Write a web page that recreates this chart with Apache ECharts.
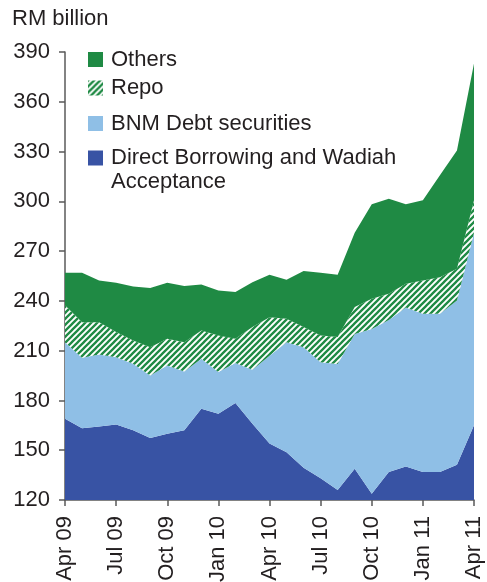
<!DOCTYPE html>
<html>
<head>
<meta charset="utf-8">
<script src="https://cdn.jsdelivr.net/npm/echarts@6/dist/echarts.min.js"></script>
<style>
  html, body { margin: 0; padding: 0; background: #fff; }
  #chart { width: 487px; height: 582px; }
</style>
</head>
<body>
<div id="chart"></div>
<script>
// months, Apr 09 .. Apr 11
var months = ['Apr 09', 'May 09', 'Jun 09', 'Jul 09', 'Aug 09', 'Sep 09', 'Oct 09', 'Nov 09', 'Dec 09',
  'Jan 10', 'Feb 10', 'Mar 10', 'Apr 10', 'May 10', 'Jun 10', 'Jul 10', 'Aug 10', 'Sep 10', 'Oct 10',
  'Nov 10', 'Dec 10', 'Jan 11', 'Feb 11', 'Mar 11', 'Apr 11'];

// RM billion, stacked bottom -> top
var directBorrowing = [169, 163.3, 164.3, 165.5, 162, 157.3, 160, 162, 175, 172, 178.4, 166, 154,
  148.8, 139.4, 133.1, 126.1, 138.8, 123.7, 136.8, 140.2, 136.8, 136.8, 141.2, 165];
var bnmDebt = [46, 42.4, 43.4, 40.6, 40.1, 37.8, 41.1, 35.5, 30.1, 25.1, 24.1, 32.5, 53,
  66.2, 72.6, 69.9, 75.9, 81.2, 99.3, 91.7, 95.8, 95.5, 95.5, 99.1, 116];
var repo = [22.3, 21.5, 19.5, 15.1, 14.1, 17, 16.1, 17.6, 17.1, 22.1, 14.7, 25.7, 23.2,
  14.2, 12.2, 16.2, 16.2, 16.3, 18.3, 15.8, 14.4, 20, 22, 19.1, 19.6];
var others = [19.7, 29.8, 25.1, 29.8, 32.5, 35.6, 33.8, 33.8, 27.7, 27.1, 28.1, 27.1, 25.6,
  23.6, 33.8, 37.8, 37.6, 44.7, 56.9, 57.3, 47.8, 48.3, 61.4, 71.3, 82.4];

var darkBlue = '#3853a4';
var lightBlue = '#8fbfe6';
var green = '#1f8a44';
var textColor = '#231f20';
var axisColor = '#5a5a5a';

// hatch for repo
var tile = document.createElement('canvas');
tile.width = 6;
tile.height = 6;
var ctx = tile.getContext('2d');
ctx.fillStyle = '#fff';
ctx.fillRect(0, 0, 6, 6);
ctx.strokeStyle = green;
ctx.lineWidth = 2.3;
ctx.beginPath();
ctx.moveTo(-1, 7); ctx.lineTo(7, -1);
ctx.moveTo(-1, 1); ctx.lineTo(1, -1);
ctx.moveTo(5, 7); ctx.lineTo(7, 5);
ctx.stroke();
var hatch = { image: tile, repeat: 'repeat' };

var font = 'Liberation Sans, Arial, Helvetica, sans-serif';
var fs = 22;

var chart = echarts.init(document.getElementById('chart'));

function legendAt(name, top, color) {
    return {
        left: 88,
        top: top,
        padding: 0,
        orient: 'vertical',
        icon: 'rect',
        itemWidth: 15,
        itemHeight: 15,
        selectedMode: false,
        textStyle: { fontFamily: font, fontSize: fs, color: textColor, padding: [0, 0, 0, 3] },
        data: [{ name: name, itemStyle: { color: color } }]
    };
}

function areaSeries(name, data, color) {
    return {
        name: name,
        type: 'line',
        stack: 'total',
        data: data,
        showSymbol: false,
        symbol: 'none',
        lineStyle: { width: 0 },
        itemStyle: { color: color },
        areaStyle: { color: color, opacity: 1 },
        emphasis: { disabled: true }
    };
}

var option = {
    animation: false,
    backgroundColor: '#fff',
    title: {
        text: 'RM billion',
        left: 12,
        top: 8,
        padding: 0,
        textStyle: { fontFamily: font, fontSize: fs, fontWeight: 'normal', color: textColor }
    },
    legend: [
        legendAt('Others', 48.5, green),
        legendAt('Repo', 77, hatch),
        legendAt('BNM Debt securities', 112.5, lightBlue),
        legendAt('Direct Borrowing and Wadiah', 147, darkBlue)
    ],
    graphic: [{
        type: 'text',
        left: 111,
        top: 171,
        style: { text: 'Acceptance', font: fs + 'px ' + font, fill: textColor }
    }],
    grid: { left: 65, right: 13, top: 52, bottom: 82, containLabel: false, outerBoundsMode: 'none' },
    xAxis: {
        type: 'category',
        data: months,
        boundaryGap: false,
        axisLine: { lineStyle: { color: axisColor, width: 1.5 } },
        axisTick: { interval: 2, length: 6, lineStyle: { color: axisColor, width: 1.5 } },
        axisLabel: {
            interval: 2,
            rotate: 90,
            margin: 16,
            fontFamily: font,
            fontSize: fs,
            color: textColor
        },
        splitLine: { show: false }
    },
    yAxis: {
        type: 'value',
        min: 120,
        max: 390,
        interval: 30,
        axisLine: { show: true, lineStyle: { color: axisColor, width: 1.5 } },
        axisTick: { show: true, length: 6, lineStyle: { color: axisColor, width: 1.5 } },
        axisLabel: { margin: 15, fontFamily: font, fontSize: fs, color: textColor },
        splitLine: { show: false }
    },
    series: [
        areaSeries('Direct Borrowing and Wadiah', directBorrowing, darkBlue),
        areaSeries('BNM Debt securities', bnmDebt, lightBlue),
        areaSeries('Repo', repo, hatch),
        areaSeries('Others', others, green)
    ]
};

chart.setOption(option);
</script>
</body>
</html>
